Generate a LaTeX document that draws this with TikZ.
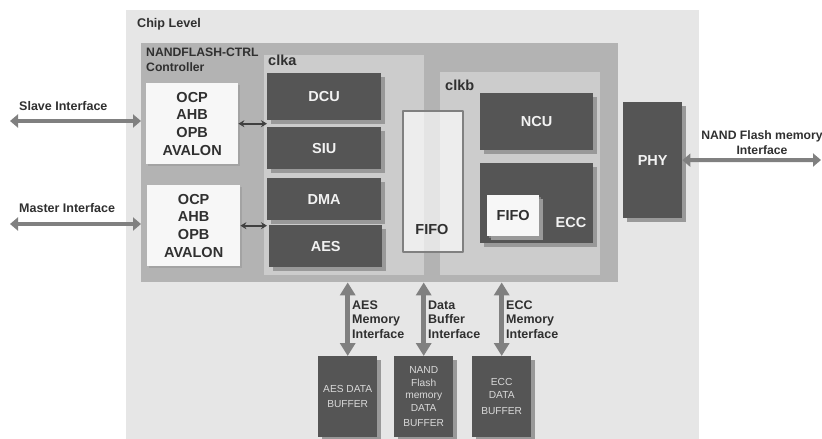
\documentclass[tikz,border=0pt]{standalone}
\usepackage{fontspec}
\setmainfont{Liberation Sans}
\usetikzlibrary{shadows,arrows.meta}
\definecolor{chipbg}{HTML}{E6E6E6}
\definecolor{ctrlbg}{HTML}{B3B3B3}
\definecolor{clkbg}{HTML}{CCCCCC}
\definecolor{blockdk}{HTML}{555555}
\definecolor{shadowgr}{HTML}{999999}
\definecolor{txtdk}{HTML}{303030}
\definecolor{busgr}{HTML}{808080}
\begin{document}
\begin{tikzpicture}[x=1pt, y=-1pt, line join=round, >=stealth,
	region/.style={anchor=north west, inner sep=0, fill=#1},
	btxt/.style={inner sep=0, font=\fontsize{14.5}{17.6}\selectfont\bfseries},
	blk/.style={btxt, anchor=north west, fill=blockdk, text=white!95!black,
		drop shadow={shadow xshift=4pt, shadow yshift=-4pt, fill=shadowgr, opacity=1}},
	buf/.style={blk, minimum width=59, minimum height=81, align=center,
		font=\fontsize{10.2}{12.5}\selectfont, text=white!85!black},
	wbox/.style={btxt, anchor=north west, fill=white!97!black, text=txtdk, align=center,
		drop shadow={shadow xshift=2pt, shadow yshift=-2pt, fill=shadowgr, opacity=.6}},
	lbl/.style={inner sep=0, anchor=west, text=txtdk, text height=.72em, text depth=0pt,
		font=\fontsize{12.5}{14.5}\selectfont\bfseries},
	hbus/.style={busgr, line width=4pt, {Triangle[width=13pt,length=8pt]}-{Triangle[width=13pt,length=8pt]}},
	vbus/.style={busgr, line width=5pt, {Triangle[width=15pt,length=13pt]}-{Triangle[width=15pt,length=13pt]}},
	sarrow/.style={black!75, line width=1.6pt, {Stealth[width=7pt,length=6pt]}-{Stealth[width=7pt,length=6pt]}}]
	\useasboundingbox (0,0) rectangle (822,439);
	\node[region=chipbg, minimum width=573, minimum height=429] (chip) at (126,10) {};
	\node[region=ctrlbg, minimum width=477, minimum height=239] (ctrl) at (141,43) {};
	\node[region=clkbg, minimum width=160, minimum height=220] (clka) at (264,55) {};
	\node[region=clkbg, minimum width=160, minimum height=203] (clkb) at (440,72) {};
	\node[lbl, font=\fontsize{12.6}{15}\selectfont\bfseries] (chiplbl) at (137,24) {Chip Level};
	\node[lbl, font=\fontsize{12.2}{15}\selectfont\bfseries] (ctrllbl) at (146,53) {NANDFLASH-CTRL};
	\node[lbl, font=\fontsize{12.2}{15}\selectfont\bfseries] (ctrlsub) at (146,68) {Controller};
	\node[lbl, font=\fontsize{14.5}{17}\selectfont\bfseries] (clkalbl) at (268,62) {clka};
	\node[lbl, font=\fontsize{14.5}{17}\selectfont\bfseries] (clkblbl) at (445,87) {clkb};

	\node[wbox, minimum width=92, minimum height=81] (slave) at (146,83) {OCP\\AHB\\OPB\\AVALON};
	\node[wbox, minimum width=93, minimum height=81] (master) at (147,185) {OCP\\AHB\\OPB\\AVALON};

	\node[blk, minimum width=114, minimum height=47] (dcu) at (267,73) {DCU};
	\node[blk, minimum width=114, minimum height=42] (siu) at (267,127) {SIU};
	\node[blk, minimum width=114, minimum height=42] (dma) at (267,178) {DMA};
	\node[blk, minimum width=113, minimum height=42] (aes) at (269,225) {AES};

	\node[region=white, minimum width=60, minimum height=141,
		fill opacity=.65, draw=busgr, line width=1.5pt] (fifo) at (402,110) {};
	\node[btxt, text=txtdk] (fifolbl) at (432,230) {FIFO};

	\node[blk, minimum width=113, minimum height=57] (ncu) at (480,93) {NCU};
	\node[blk, minimum width=113, minimum height=80] (ecc) at (480,163) {};
	\node[btxt, text=white!95!black] (ecclbl) at (571,223) {ECC};
	\node[wbox, minimum width=52, minimum height=41,
		drop shadow={shadow xshift=4pt, shadow yshift=-4pt, fill=shadowgr, opacity=1}] (eccfifo) at (487,195) {FIFO};
	\node[blk, minimum width=59, minimum height=116] (phy) at (623,102) {PHY};

	\node[buf] (aesbuf) at (318,356) {AES DATA\\[3pt]BUFFER};
	\node[buf] (nandbuf) at (394,356) {NAND\\Flash\\memory\\DATA\\[2.5pt]BUFFER};
	\node[buf] (eccbuf) at (472,356) {ECC\\DATA\\[4pt]BUFFER};

	\coordinate (slvin) at (10,121);
	\coordinate (mstin) at (10,224);
	\coordinate (nandio) at (821,160);
	\draw[hbus] (slvin) -- (slvin -| ctrl.west);
	\draw[hbus] (mstin) -- (mstin -| ctrl.west);
	\draw[hbus] (phy.east) -- (nandio);
	\draw[sarrow] (slave.east) -- (slave.east -| dcu.west);
	\draw[sarrow] (master.east) -- (master.east -| dma.west);
	\draw[vbus] (aesbuf.north) -- (aesbuf.north |- ctrl.south);
	\draw[vbus] (nandbuf.north) -- (nandbuf.north |- ctrl.south);
	\draw[vbus] (eccbuf.north) -- (eccbuf.north |- ctrl.south);

	\node[lbl] (slvlbl) at (19,107) {Slave Interface};
	\node[lbl] (mstlbl) at (19,209) {Master Interface};
	\node[lbl, anchor=center, align=center, text height=, text depth=, font=\fontsize{12.2}{15}\selectfont\bfseries] (nandlbl) at (762,142.5) {NAND Flash memory\\Interface};
	\node[lbl, anchor=north west, align=left, text height=, text depth=] (aesmem) at (352,300.5) {AES\\Memory\\Interface};
	\node[lbl, anchor=north west, align=left, text height=, text depth=] (databuf) at (428,300.5) {Data\\Buffer\\Interface};
	\node[lbl, anchor=north west, align=left, text height=, text depth=] (eccmem) at (506,300.5) {ECC\\Memory\\Interface};
\end{tikzpicture}
\end{document}
